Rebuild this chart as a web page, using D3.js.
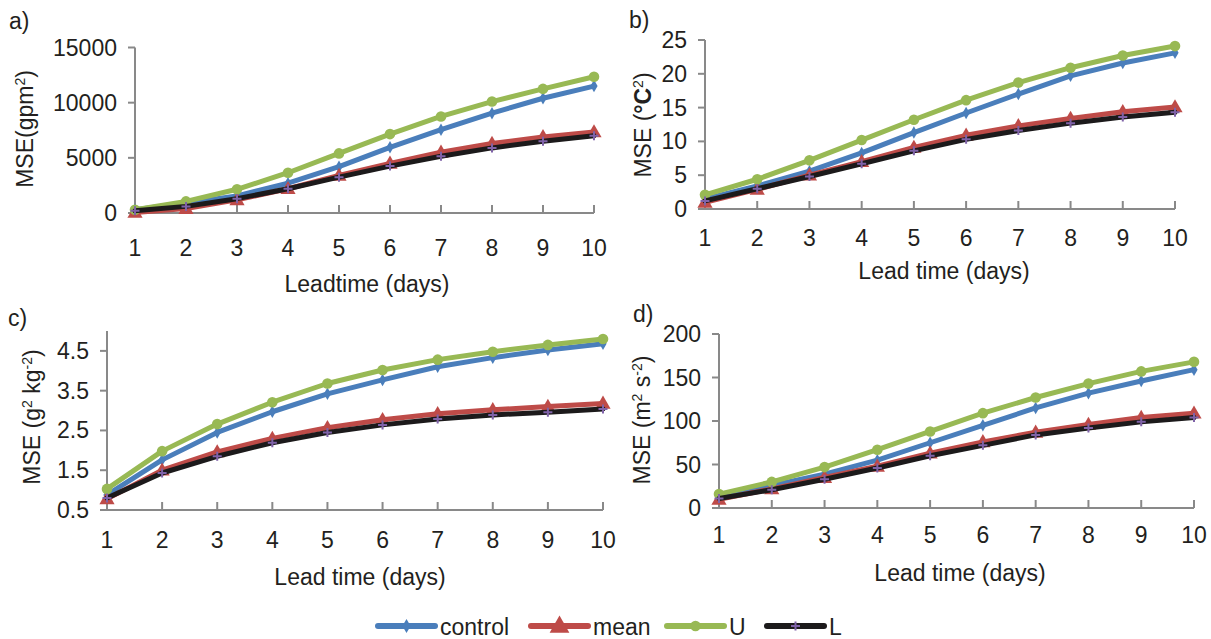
<!DOCTYPE html>
<html>
<head>
    <title>MSE vs lead time</title>
    <script src="https://d3js.org/d3.v7.min.js"></script>
    <style>
        body { margin: 0; background: #fff; }
        svg { font-family: "Liberation Sans", Arial, sans-serif; fill: #231f20; }
    </style>
</head>
<body>
    <svg id="chart" width="1211" height="639"></svg>

    <script>
        // lead time (days)
        var leadDays = [1, 2, 3, 4, 5, 6, 7, 8, 9, 10]
        var seriesNames = ["control", "mean", "U", "L"]
        var seriesColors = ["#4a7ebb", "#be4b48", "#98b954", "#1c1a1b"]

        // a) geopotential height
        var gpmControl = [300, 900, 1550, 2700, 4200, 5950, 7550, 9050, 10400, 11500]
        var gpmMean = [50, 400, 1200, 2200, 3400, 4500, 5500, 6300, 6900, 7350]
        var gpmU = [300, 1050, 2150, 3650, 5400, 7150, 8750, 10100, 11250, 12350]
        var gpmL = [200, 600, 1300, 2200, 3250, 4250, 5150, 5900, 6500, 7000]
        var gpmTicks = [0, 5000, 10000, 15000]

        // b) temperature
        var tempControl = [1.5, 3.4, 5.6, 8.3, 11.3, 14.2, 17.0, 19.7, 21.6, 23.1]
        var tempMean = [1.0, 2.9, 5.0, 7.0, 9.1, 10.9, 12.3, 13.4, 14.4, 15.1]
        var tempU = [2.1, 4.4, 7.2, 10.2, 13.2, 16.1, 18.7, 20.9, 22.7, 24.1]
        var tempL = [1.2, 3.0, 4.8, 6.7, 8.6, 10.3, 11.6, 12.7, 13.6, 14.3]
        var tempTicks = [0, 5, 10, 15, 20, 25]

        // c) specific humidity
        var humControl = [0.88, 1.76, 2.45, 2.97, 3.42, 3.77, 4.10, 4.33, 4.52, 4.68]
        var humMean = [0.78, 1.50, 1.96, 2.30, 2.57, 2.77, 2.92, 3.02, 3.10, 3.18]
        var humU = [1.03, 1.98, 2.66, 3.21, 3.68, 4.02, 4.28, 4.48, 4.65, 4.80]
        var humL = [0.80, 1.43, 1.85, 2.19, 2.45, 2.64, 2.79, 2.89, 2.96, 3.04]
        var humTicks = [0.5, 1.5, 2.5, 3.5, 4.5]

        // d) wind
        var windControl = [14, 26, 39, 55, 75, 95, 115, 132, 146, 159]
        var windMean = [10, 22, 35, 48, 63, 76, 87, 96, 104, 109]
        var windU = [16, 30, 47, 67, 88, 109, 127, 143, 157, 168]
        var windL = [11, 21, 33, 46, 60, 72, 84, 92, 99, 104]
        var windTicks = [0, 50, 100, 150, 200]

        var axisColor = "#898989"
        var svg = d3.select("#chart")

        var panels = [
            { tag: "a)", tagX: 9, tagY: 29, series: [gpmControl, gpmMean, gpmU, gpmL], ticks: gpmTicks,
              domain: [0, 15000], x0: 135, x1: 594, yb: 213, yt: 47.5, xLabY: 256,
              xTitle: "Leadtime (days)", xtX: 367, xtY: 292, ytX: 33, ytY: 129,
              yTitle: [["MSE(gpm", 0], ["2", 1], [")", 0]], fmt: d => d },
            { tag: "b)", tagX: 629, tagY: 28, series: [tempControl, tempMean, tempU, tempL], ticks: tempTicks,
              domain: [0, 25], x0: 705, x1: 1175, yb: 209, yt: 40, xLabY: 246,
              xTitle: "Lead time (days)", xtX: 944, xtY: 279, ytX: 651, ytY: 125,
              yTitle: [["MSE (", 0], ["°C", 2], ["2", 1], [")", 0]], fmt: d => d },
            { tag: "c)", tagX: 8, tagY: 326, series: [humControl, humMean, humU, humL], ticks: humTicks,
              domain: [0.5, 5], x0: 107, x1: 603, yb: 510, yt: 331, xLabY: 548,
              xTitle: "Lead time (days)", xtX: 360, xtY: 585, ytX: 40, ytY: 417,
              yTitle: [["MSE (g", 0], ["2", 1], [" kg", 0], ["-2", 1], [")", 0]], fmt: d => d.toFixed(1) },
            { tag: "d)", tagX: 633, tagY: 322, series: [windControl, windMean, windU, windL], ticks: windTicks,
              domain: [0, 200], x0: 719, x1: 1194, yb: 508, yt: 334, xLabY: 543,
              xTitle: "Lead time (days)", xtX: 960, xtY: 581, ytX: 650, ytY: 420,
              yTitle: [["MSE (m", 0], ["2", 1], [" s", 0], ["-2", 1], [")", 0]], fmt: d => d }
        ]

        function drawMarker(g, k, color, big) {
            var s = big ? 1.3 : 1
            if (k == 0) {
                g.append("path").attr("d", d3.symbol(d3.symbolDiamond, 45 * s)()).attr("fill", color)
            } else if (k == 1) {
                g.append("path").attr("d", d3.symbol(d3.symbolTriangle, 100 * s * s)()).attr("fill", color)
                    .attr("transform", "translate(0,1)")
            } else if (k == 2) {
                g.append("circle").attr("r", 5.3).attr("fill", color)
            } else {
                g.append("path").attr("d", "M-4.5,0H4.5M0,-4.5V4.5")
                    .attr("stroke", "#7f62a8").attr("stroke-width", 2).attr("fill", "none")
            }
        }

        panels.forEach(p => {
            var x = d3.scaleLinear([1, 10], [p.x0, p.x1])
            var y = d3.scaleLinear(p.domain, [p.yb, p.yt])
            var g = svg.append("g")

            // panel tag
            g.append("text").attr("x", p.tagX).attr("y", p.tagY)
                .style("font-size", "23px").text(p.tag)

            // y axis
            g.append("line").attr("x1", p.x0).attr("x2", p.x0).attr("y1", p.yb).attr("y2", p.yt)
                .attr("stroke", axisColor).attr("stroke-width", 2)
            g.selectAll(".ytick").data(p.ticks).enter()
                .append("line")
                .attr("x1", p.x0 - 7).attr("x2", p.x0)
                .attr("y1", d => y(d)).attr("y2", d => y(d))
                .attr("stroke", axisColor).attr("stroke-width", 2)
            g.selectAll(".ylab").data(p.ticks).enter()
                .append("text")
                .attr("x", p.x0 - 18).attr("y", d => y(d) + 8)
                .attr("text-anchor", "end")
                .style("font-size", "23px")
                .text(d => p.fmt(d))

            // x axis
            g.append("line").attr("x1", p.x0).attr("x2", p.x1).attr("y1", p.yb).attr("y2", p.yb)
                .attr("stroke", axisColor).attr("stroke-width", 2)
            g.selectAll(".xtick").data(leadDays.slice(1)).enter()
                .append("line")
                .attr("x1", d => x(d)).attr("x2", d => x(d))
                .attr("y1", p.yb - 8).attr("y2", p.yb)
                .attr("stroke", axisColor).attr("stroke-width", 2)
            g.selectAll(".xlab").data(leadDays).enter()
                .append("text")
                .attr("x", d => x(d)).attr("y", p.xLabY)
                .attr("text-anchor", "middle")
                .style("font-size", "23px")
                .text(d => d)

            // axis titles
            g.append("text").attr("x", p.xtX).attr("y", p.xtY)
                .attr("text-anchor", "middle").style("font-size", "23px").text(p.xTitle)

            var yt = g.append("text")
                .attr("transform", "translate(" + p.ytX + "," + p.ytY + ") rotate(-90)")
                .attr("text-anchor", "middle").style("font-size", "23px")
            p.yTitle.forEach(part => {
                var t = yt.append("tspan").text(part[0])
                if (part[1] == 1) t.style("font-size", "14px").attr("baseline-shift", "55%")
                if (part[1] == 2) t.style("font-weight", "bold")
            })

            // series
            var line = d3.line().x((d, i) => x(leadDays[i])).y(d => y(d))
            p.series.forEach((vals, k) => {
                g.append("path").datum(vals)
                    .attr("d", line)
                    .attr("fill", "none")
                    .attr("stroke", seriesColors[k])
                    .attr("stroke-width", 5)
                    .attr("stroke-linejoin", "round")
                    .attr("stroke-linecap", "round")
                vals.forEach((v, i) => {
                    var m = g.append("g").attr("transform", "translate(" + x(leadDays[i]) + "," + y(v) + ")")
                    drawMarker(m, k, seriesColors[k], false)
                })
            })
        })

        // legend
        var legX = [378, 531, 667, 767]
        var leg = svg.append("g")
        seriesNames.forEach((name, k) => {
            var lg = leg.append("g").attr("transform", "translate(" + legX[k] + ",626)")
            lg.append("line").attr("x1", 0).attr("x2", 57).attr("y1", 0).attr("y2", 0)
                .attr("stroke", seriesColors[k]).attr("stroke-width", 6).attr("stroke-linecap", "round")
            var m = lg.append("g").attr("transform", "translate(28.5,0)")
            drawMarker(m, k, seriesColors[k], true)
            lg.append("text").attr("x", 62).attr("y", 9)
                .style("font-size", "23px").text(name)
        })
    </script>
</body>
</html>
